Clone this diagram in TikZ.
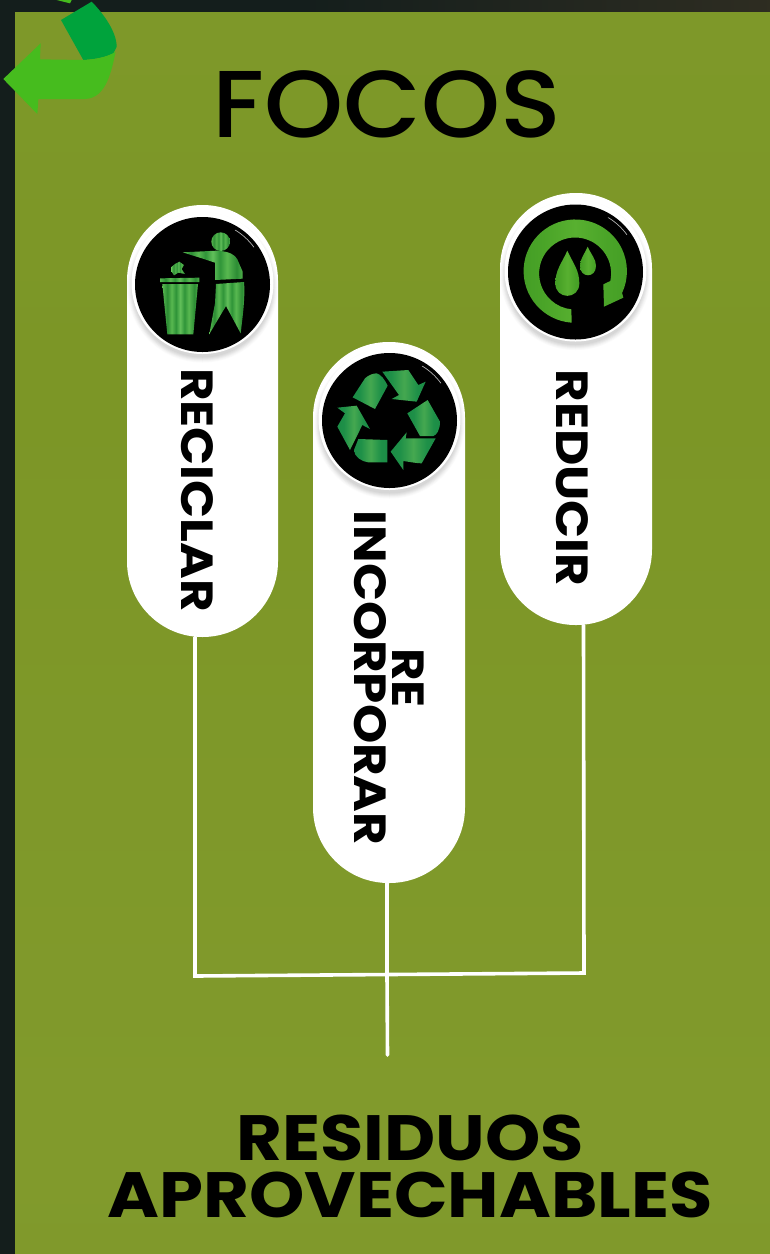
\documentclass[tikz,border=0pt]{standalone}
\usepackage{fontspec}
\setmainfont[FakeStretch=1.1]{Poppins}
\newfontfamily\focosfont[FakeStretch=1.06]{Poppins Medium}
\newfontfamily\labelfont[FakeStretch=1.11]{Poppins}
\usetikzlibrary{calc}
\definecolor{darkbg}{HTML}{141E1C}
\definecolor{arrowdark}{HTML}{00A33C}
\definecolor{arrowlight}{HTML}{46BC1E}
\definecolor{fa}{HTML}{7C9628}\definecolor{fb}{HTML}{819A2C}\definecolor{fc}{HTML}{7C9626}\definecolor{fd}{HTML}{7F9A2B}\definecolor{fe}{HTML}{8AA133}
\definecolor{sa}{HTML}{2C8C34}\definecolor{sb}{HTML}{58B850}\definecolor{sc}{HTML}{2F9438}\definecolor{sd}{HTML}{62C05A}
\definecolor{ra}{HTML}{15803F}\definecolor{rb}{HTML}{1E9048}\definecolor{rc}{HTML}{45A850}
\definecolor{ca}{HTML}{358F1E}\definecolor{cb}{HTML}{4AA428}\definecolor{cc}{HTML}{58B030}
\pgfdeclareverticalshading{fieldshade}{100bp}{color(0bp)=(fa);color(30bp)=(fb);color(60bp)=(fc);color(85bp)=(fd);color(100bp)=(fe)}
\pgfdeclarehorizontalshading{stripeA}{100bp}{color(0bp)=(sa);color(25bp)=(sb);color(32bp)=(sa);color(38bp)=(sb);color(44bp)=(sc);color(50bp)=(sd);color(56bp)=(sc);color(62bp)=(sb);color(70bp)=(sa);color(76bp)=(sb);color(100bp)=(sa)}
\pgfdeclarehorizontalshading{stripeB}{100bp}{color(0bp)=(ra);color(35bp)=(rb);color(50bp)=(rc);color(65bp)=(rb);color(100bp)=(ra)}
\pgfdeclarehorizontalshading{stripeC}{100bp}{color(0bp)=(ca);color(35bp)=(cb);color(50bp)=(cc);color(65bp)=(cb);color(100bp)=(ca)}
\tikzset{
  pill/.style={fill=white,rounded corners=75.5pt,minimum width=#1,inner sep=0pt},
  pilltext/.style={rotate=-90,font=\fontsize{45}{38}\selectfont\labelfont\bfseries,text=black,inner sep=0pt,align=center},
  conn/.style={draw=white,line width=3.6pt,line cap=round,line join=miter},
  iconscope/.style={x=0.33333pt,y=-0.33333pt}
}
\newcommand{\buttonback}[2]{%
  \foreach \r/\g in {75/2,74/4,73/7,72/10,71/13,70/16}{\fill[black!\g] (#1,#2+3) circle[radius=\r pt];}
  \fill[white] (#1,#2-1.5) circle[radius=71pt];
  \fill[black] (#1,#2) circle[radius=67.5pt];
  \draw[white!70!black,line width=0.7pt,line cap=round] ($(#1,#2)+(59:63.5pt)$) arc[start angle=59,end angle=36,radius=63.5pt];
}
\begin{document}
\begin{tikzpicture}[x=1pt,y=-1pt]
\useasboundingbox (0,0) rectangle (770,1254);
\fill[darkbg] (0,0) rectangle (770,1254);
\shade[left color=darkbg,right color=darkbg!85!brown] (300,0) rectangle (770,12);
\shade[shading=fieldshade] (15,12) rectangle (770,1254);

% back arrow
\begin{scope}[iconscope]
\fill[arrowlight] (170,0) -- (215,0) -- (210,10) -- cycle;
\fill[arrowdark] (183,60) -- (275,5) .. controls (300,30) and (350,90) .. (350,140) -- (340,160) .. controls (320,170) and (290,178) .. (250,180) -- cycle;
\fill[arrowlight] (10,237) -- (122,130) -- (120,178) -- (250,180) .. controls (290,178) and (325,170) .. (347,155) .. controls (335,210) and (320,295) .. (255,297) -- (115,297) -- (112,342) -- cycle;
\end{scope}

\node[font=\fontsize{95}{95}\selectfont\focosfont,inner sep=0pt] (title) at (387,104) {FOCOS};

% pills
\node[pill=151pt,minimum height=432pt] (reciclar) at (202.5,421) {};
\node[pill=152pt,minimum height=541pt] (reinc) at (389,612.5) {};
\node[pill=152pt,minimum height=432pt] (reducir) at (576,409) {};

% connectors
\coordinate (cl) at ([xshift=-7.5pt]reciclar.south);
\coordinate (cr) at ([xshift=7.5pt]reducir.south);
\coordinate (cm) at ([xshift=-2pt]reinc.south);
\coordinate (jl) at (195,976);
\coordinate (jr) at (584,973);
\coordinate (jm) at (387,974.5);
\coordinate (stem) at (387.5,1055);
\draw[conn] (cl) -- (jl) -- (jr) -- (cr);
\draw[conn] (cm) -- (jm) -- (stem);

% labels
\node[pilltext] (tr) at (197,490) {RECICLAR};
\node[pilltext] (ti) at (389,678) {RE\\INCORPORAR};
\node[pilltext] (td) at (572,478) {REDUCIR};
\node[font=\fontsize{64}{57}\selectfont\bfseries,align=center,inner sep=0pt] (bottom) at (410,1166) {RESIDUOS\\APROVECHABLES};

% buttons
\buttonback{202.5}{284.5}
\buttonback{389.5}{420.5}
\buttonback{575.5}{272}

% trash icon
\begin{scope}[shift={(120,200)},iconscope]
\shade[shading=stripeA] (302,125) circle[radius=9.33pt];
\shade[shading=stripeA] (188,157) -- (290,152) .. controls (330,154) and (345,165) .. (352,178) -- (368,215) -- (368,236) -- (285,240) -- (285,188) -- (255,178) -- cycle;
\shade[shading=stripeA] (288,252) -- (372,246) .. controls (376,290) and (368,350) .. (362,400) -- (318,318) -- (268,402) -- (285,310) -- cycle;
\shade[shading=stripeA] (120,235) -- (238,233) -- (238,246) -- (120,246) -- cycle;
\shade[shading=stripeA] (127,252) -- (234,252) -- (220,403) -- (142,403) -- cycle;
\shade[shading=stripeA] (155,200) -- (165,192) -- (178,185) -- (192,195) -- (185,207) -- (195,222) -- (175,218) -- (162,226) -- (155,215) -- cycle;
\end{scope}

% recycle icon
\begin{scope}[shift={(305,335)},iconscope]
\shade[shading=stripeB] (232,110) -- (310,105) -- (340,150) -- (362,140) -- (335,200) -- (260,192) -- (282,180) -- cycle;
\shade[shading=stripeB] (215,115) .. controls (228,118) and (240,135) .. (248,152) -- (210,222) -- (143,187) -- (180,130) .. controls (190,120) and (205,115) .. (215,115) -- cycle;
\shade[shading=stripeB] (368,195) -- (405,260) .. controls (405,285) and (395,300) .. (385,303) -- (345,303) -- (307,235) -- cycle;
\shade[shading=stripeB] (392,310) -- (350,385) .. controls (335,385) and (310,380) .. (295,378) -- (295,405) -- (257,350) -- (305,292) -- (302,310) -- cycle;
\shade[shading=stripeB] (160,312) -- (247,315) -- (247,382) -- (190,382) .. controls (170,380) and (147,365) .. (147,345) -- cycle;
\shade[shading=stripeB] (97,218) -- (155,212) -- (195,282) -- (172,270) -- (135,345) -- (97,275) -- (120,235) -- cycle;
\end{scope}

% reduce icon
\begin{scope}[shift={(490,185)},iconscope]
\shade[shading=stripeC] (245,413) arc[start angle=266,end angle=-25,radius=51.67pt] -- (400,338) -- (342,365) -- (340,298) -- (361,288) arc[start angle=-12,end angle=264,radius=36pt] -- cycle;
\shade[shading=stripeC] (232,197) .. controls (215,235) and (196,255) .. (196,295) .. controls (196,345) and (268,345) .. (268,295) .. controls (268,255) and (249,235) .. (232,197) -- cycle;
\shade[shading=stripeC] (293,185) .. controls (282,210) and (270,222) .. (270,243) .. controls (270,280) and (318,280) .. (318,243) .. controls (318,222) and (304,210) .. (293,185) -- cycle;
\end{scope}
\end{tikzpicture}
\end{document}
